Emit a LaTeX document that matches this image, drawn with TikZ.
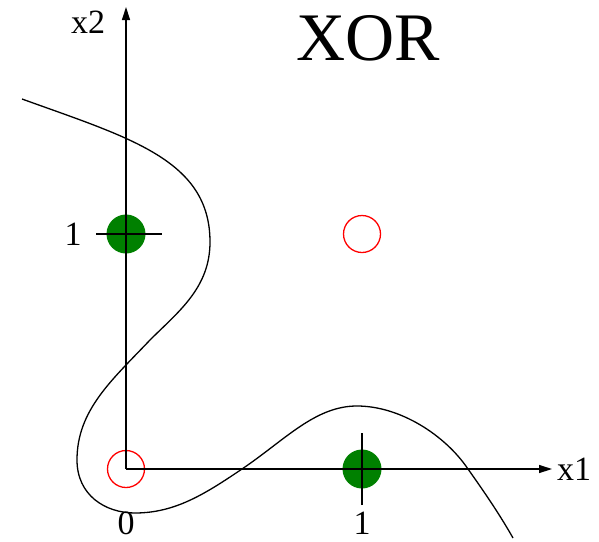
\documentclass[tikz,border=0pt]{standalone}
\usepackage{fontspec}
\setmainfont{Liberation Serif}
\usetikzlibrary{positioning,arrows.meta}

\begin{document}
\begin{tikzpicture}[
  x=1pt, y=-1pt,
  axis/.style={line width=1.3pt, -{Triangle[length=13pt,width=8pt]}},
  tick/.style={line width=1.3pt},
  posdot/.style={circle, fill=green!50!black, minimum size=39pt, inner sep=0pt},
  negdot/.style={circle, draw=red, line width=1.3pt, minimum size=37pt, inner sep=0pt},
  lbl/.style={font=\fontsize{34}{34}\selectfont, inner sep=0pt}
]
\useasboundingbox (0,0) rectangle (599,541);

% data points
\node[negdot] (p00) at (126,469) {};
\node[posdot] (p01) at (126,234) {};
\node[negdot] (p11) at (362,234) {};
\node[posdot] (p10) at (362,469) {};

% axes
\coordinate (o) at (126,469);
\coordinate (xend) at (552,469);
\coordinate (yend) at (126,7);
\draw[axis] (o) -- (xend);
\draw[axis] (o) -- (yend);

% ticks
\draw[tick] ([xshift=-30pt]p01.center) -- ([xshift=36pt]p01.center);
\draw[tick] ([yshift=-36pt]p10.center) -- ([yshift=36pt]p10.center);

% labels
\node[lbl] (lx1) [right=5pt of xend] {x1};
\node[lbl] (lx2) at (88,22) {x2};
\node[lbl] (l1y) at (73,234) {1};
\node[lbl] (l0x) at (126,523) {0};
\node[lbl] (l1x) at (362,523) {1};
\node[font=\fontsize{68}{68}\selectfont, inner sep=0pt] (title) at (368,38) {XOR};

% decision boundary
\draw[line width=1.3pt] (22,99)
  .. controls (130,138) and (210,160) .. (210,242)
  .. controls (210,288) and (178,312) .. (150,340)
  .. controls (112,380) and (77,410) .. (77,460)
  .. controls (77,495) and (105,513) .. (135,513)
  .. controls (175,513) and (205,494) .. (242,469)
  .. controls (285,440) and (315,406) .. (357,406)
  .. controls (400,406) and (445,435) .. (468,469)
  .. controls (485,493) and (500,515) .. (513,538);
\end{tikzpicture}
\end{document}
